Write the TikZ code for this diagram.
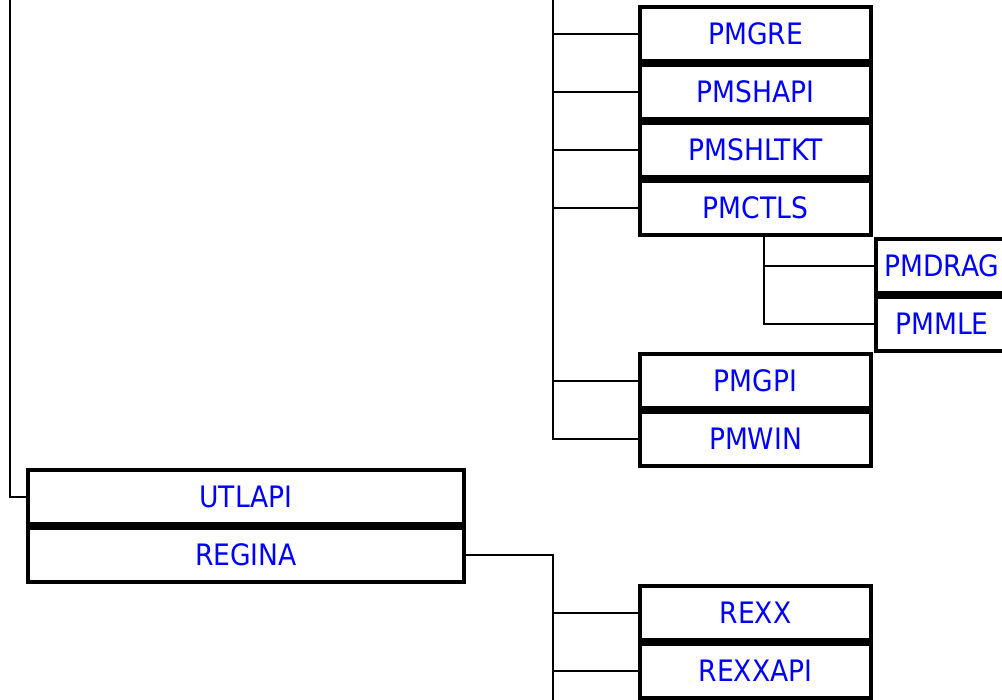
\documentclass[tikz,border=0pt]{standalone}
\usepackage{fontspec}
\setmainfont{DejaVu Sans Condensed}
\usepackage{tikz}
\usetikzlibrary{positioning}
\definecolor{modblue}{RGB}{0,0,255}

\begin{document}
\begin{tikzpicture}[x=0.02cm,y=-0.02cm,
  modbox/.style={draw,line width=1.9pt,fill=white,minimum height=1.08cm,inner sep=0pt,
    text=modblue,font=\fontsize{16.8pt}{19pt}\selectfont},
  rbox/.style={modbox,minimum width=4.62cm},
  link/.style={line width=1pt}]
\useasboundingbox (0,0) rectangle (1002,700);
\node[rbox] (pmgre) at (755.5,34) {PMGRE};
\node[rbox] (pmshapi) at (755.5,92) {PMSHAPI};
\node[rbox] (pmshltkt) at (755.5,150) {PMSHLTKT};
\node[rbox] (pmctls) at (755.5,208) {PMCTLS};
\node[modbox,minimum width=2.64cm] (pmdrag) at (942,266) {PMDRAG};
\node[modbox,minimum width=2.64cm] (pmmle) at (942,324) {PMMLE};
\node[rbox] (pmgpi) at (755.5,381) {PMGPI};
\node[rbox] (pmwin) at (755.5,439) {PMWIN};
\node[modbox,minimum width=8.72cm] (utlapi) at (246,497) {UTLAPI};
\node[modbox,minimum width=8.72cm] (regina) at (246,555) {REGINA};
\node[rbox] (rexx) at (755.5,613) {REXX};
\node[rbox] (rexxapi) at (755.5,671) {REXXAPI};
\coordinate (lefttop) at (10,0);
\coordinate (righttop) at (553,0);
\coordinate (rightbot) at (553,700);
\coordinate (ctls) at ([xshift=0.17cm]pmctls.south);
\draw[link] (lefttop) |- (utlapi.west);
\draw[link] (righttop) |- (pmwin.west);
\foreach \n in {pmgre,pmshapi,pmshltkt,pmctls,pmgpi}
  \draw[link] (righttop |- \n.west) -- (\n.west);
\draw[link] (ctls) |- (pmmle.west);
\draw[link] (ctls |- pmdrag.west) -- (pmdrag.west);
\draw[link] (regina.east) -| (rightbot);
\foreach \n in {rexx,rexxapi}
  \draw[link] (rightbot |- \n.west) -- (\n.west);
\end{tikzpicture}
\end{document}
